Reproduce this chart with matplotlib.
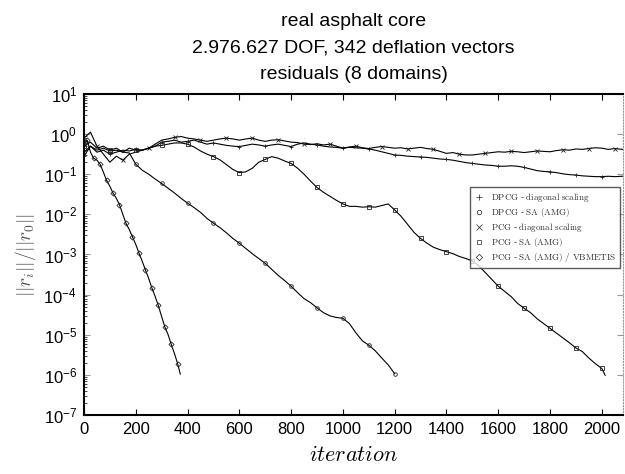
"""plot.py - residual convergence, real asphalt core, 8 domains."""

import matplotlib
matplotlib.use('Agg')
import matplotlib.pyplot as plt
import numpy as np
from matplotlib.lines import Line2D
from matplotlib.ticker import FixedLocator, LogLocator, NullFormatter

plt.rcParams.update({
    'font.family': ['Liberation Sans', 'DejaVu Sans'],
    'mathtext.fontset': 'cm',
    'xtick.direction': 'in', 'ytick.direction': 'in',
})

# --- data (log10 of relative residual) ---
it_long = [0, 25, 50, 75, 100, 125, 150, 175, 200, 225, 250, 275, 300, 325, 350, 375,
           400, 425, 450, 475, 500, 525, 550, 575, 600, 625, 650, 675, 700, 725, 750, 775,
           800, 825, 850, 875, 900, 925, 950, 975, 1000, 1025, 1050, 1075, 1100, 1125,
           1150, 1175, 1200, 1225, 1250, 1275, 1300, 1325, 1350, 1375, 1400, 1425, 1450,
           1475, 1500, 1525, 1550, 1575, 1600, 1625, 1650, 1675, 1700, 1725, 1750, 1775,
           1800, 1825, 1850, 1875, 1900, 1925, 1950, 1975, 2000, 2025, 2050, 2080]

dpcg_diag = [-0.55, -0.30, -0.45, -0.40, -0.50, -0.45, -0.40, -0.42, -0.38, -0.40, -0.35,
             -0.30, -0.20, -0.18, -0.15, -0.20, -0.18, -0.15, -0.20, -0.25, -0.22, -0.25,
             -0.28, -0.30, -0.31, -0.28, -0.25, -0.27, -0.30, -0.27, -0.25, -0.28, -0.31,
             -0.25, -0.22, -0.25, -0.27, -0.30, -0.32, -0.33, -0.35, -0.33, -0.34, -0.35,
             -0.37, -0.40, -0.44, -0.48, -0.52, -0.53, -0.55, -0.56, -0.57, -0.58, -0.60,
             -0.62, -0.63, -0.65, -0.68, -0.71, -0.73, -0.75, -0.77, -0.78, -0.80, -0.80,
             -0.79, -0.80, -0.83, -0.87, -0.91, -0.93, -0.94, -0.96, -0.99, -1.01, -1.02,
             -1.04, -1.05, -1.06, -1.06, -1.05, -1.06, -1.05]

pcg_diag = [-0.10, 0.05, -0.30, -0.50, -0.70, -0.55, -0.65, -0.50, -0.45, -0.40, -0.35,
            -0.25, -0.15, -0.12, -0.08, -0.06, -0.10, -0.12, -0.15, -0.18, -0.15, -0.12,
            -0.10, -0.12, -0.15, -0.12, -0.10, -0.15, -0.18, -0.15, -0.14, -0.17, -0.20,
            -0.21, -0.25, -0.26, -0.24, -0.27, -0.25, -0.30, -0.35, -0.32, -0.30, -0.34,
            -0.36, -0.33, -0.31, -0.33, -0.35, -0.34, -0.37, -0.35, -0.33, -0.36, -0.38,
            -0.43, -0.48, -0.46, -0.50, -0.52, -0.52, -0.50, -0.48, -0.46, -0.44, -0.45,
            -0.43, -0.44, -0.46, -0.44, -0.42, -0.43, -0.44, -0.41, -0.39, -0.40, -0.37,
            -0.38, -0.36, -0.34, -0.35, -0.38, -0.36, -0.38]

it_sq = it_long[:81] + [2013]
pcg_sa = [-0.30, -0.20, -0.35, -0.30, -0.40, -0.35, -0.45, -0.35, -0.40, -0.40, -0.35,
          -0.30, -0.28, -0.25, -0.22, -0.22, -0.25, -0.32, -0.42, -0.50, -0.56, -0.64,
          -0.76, -0.88, -0.96, -0.94, -0.85, -0.70, -0.63, -0.56, -0.60, -0.67, -0.73,
          -0.85, -1.00, -1.17, -1.33, -1.45, -1.55, -1.65, -1.74, -1.80, -1.80, -1.82,
          -1.81, -1.82, -1.78, -1.74, -1.89, -2.05, -2.25, -2.45, -2.60, -2.72, -2.82,
          -2.88, -2.93, -2.98, -3.05, -3.10, -3.16, -3.28, -3.45, -3.62, -3.79, -3.92,
          -4.05, -4.22, -4.34, -4.45, -4.60, -4.72, -4.84, -4.96, -5.08, -5.20, -5.33,
          -5.42, -5.58, -5.72, -5.84, -6.01]

it_circ = it_long[:49]
dpcg_sa = [-0.45, -0.30, -0.40, -0.35, -0.42, -0.40, -0.45, -0.47, -0.75, -0.90, -1.00,
           -1.12, -1.23, -1.35, -1.47, -1.60, -1.72, -1.83, -1.95, -2.10, -2.22, -2.33,
           -2.46, -2.60, -2.72, -2.85, -2.98, -3.10, -3.22, -3.37, -3.52, -3.65, -3.79,
           -3.95, -4.10, -4.20, -4.33, -4.45, -4.53, -4.57, -4.59, -4.72, -4.95, -5.15,
           -5.26, -5.40, -5.58, -5.75, -5.97]

it_dia = [0, 12, 25, 37, 50, 62, 75, 87, 100, 112, 125, 137, 150, 162, 175, 187, 200,
          212, 225, 237, 250, 262, 275, 287, 300, 312, 325, 337, 350, 362, 372]
pcg_sa_vbm = [-0.25, -0.15, -0.45, -0.60, -0.65, -0.75, -0.95, -1.15, -1.30, -1.47, -1.60,
              -1.76, -2.00, -2.22, -2.38, -2.56, -2.75, -2.96, -3.17, -3.38, -3.60, -3.83,
              -4.05, -4.27, -4.55, -4.80, -5.00, -5.24, -5.48, -5.73, -5.98]

methods = ['DPCG', 'DPCG', 'PCG', 'PCG', 'PCG']
precs = [r'diagonal\ scaling', r'SA\ (AMG)', r'diagonal\ scaling', r'SA\ (AMG)',
         r'SA\ (AMG)\ /\ VBMETIS']
markers = ['+', 'o', 'x', 's', 'D']
x_ticks = [0, 200, 400, 600, 800, 1000, 1200, 1400, 1600, 1800, 2000]
y_exps = [1, 0, -1, -2, -3, -4, -5, -6, -7]

series = [(it_long, dpcg_diag, 4, 0), (it_circ, dpcg_sa, 4, 0),
          (it_long, pcg_diag, 4, 2), (it_sq, pcg_sa, 4, 0),
          (it_dia, pcg_sa_vbm, 2, 1)]

fig = plt.figure(figsize=(6.25, 4.74), dpi=100)
ax = fig.add_axes([0.1344, 0.1245, 0.8624, 0.6772])

for (xs, ys, every, start), mk in zip(series, markers):
    ms = 3.5 if mk in '+x' else 2.6
    ax.semilogy(xs, 10.0 ** np.array(ys), color='black', lw=0.8,
                marker=mk, ms=ms, mew=0.6, mfc='none', mec='#222222',
                markevery=(start, every))

ax.set_xlim(0, 2082)
ax.set_ylim(1e-7, 1e1)
ax.xaxis.set_major_locator(FixedLocator(x_ticks))
ax.set_xticklabels([str(v) for v in x_ticks])
ax.yaxis.set_major_locator(FixedLocator([10.0 ** e for e in y_exps]))
ax.set_yticklabels([r'$\mathregular{10^{%d}}$' % e for e in y_exps])
ax.yaxis.set_minor_locator(LogLocator(base=10, subs=np.arange(2, 10)))
ax.yaxis.set_minor_formatter(NullFormatter())
ax.tick_params(axis='both', which='major', labelsize=12, length=4, width=0.8,
               top=True, right=True, pad=5)
ax.tick_params(axis='y', which='minor', length=2, width=0.5, right=False)
ax.tick_params(axis='y', which='major', right=True, color='#999999')

for side in ['left', 'bottom', 'top']:
    ax.spines[side].set_linewidth(1.5)
ax.spines['right'].set_linewidth(0.8)
ax.spines['right'].set_linestyle(':')
ax.spines['right'].set_color('#999999')

ax.set_xlabel(r'$iteration$', fontsize=16, labelpad=6)
ax.set_ylabel(r'$||r_i||/||r_0||$', fontsize=14, color='#555555', labelpad=4)

ax.set_title('real asphalt core\n2.976.627 DOF, 342 deflation vectors\nresiduals (8 domains)',
             fontsize=14, linespacing=1.72, pad=11)

labels = [r'$\mathrm{%s}$ - $\mathrm{%s}$' % (m, p) for m, p in zip(methods, precs)]
handles = [Line2D([], [], ls='none', marker=m, color='#222222', mfc='none',
                  ms=4 if m in '+x' else 3.2, mew=0.5) for m in markers]
leg = ax.legend(handles, labels, loc='upper right', bbox_to_anchor=(0.995, 0.71),
                borderaxespad=0, fontsize=6.5, frameon=True, fancybox=False,
                handlelength=1.0, handletextpad=0.9, labelspacing=0.22,
                borderpad=0.45, labelcolor='#333333')
leg.get_frame().set_edgecolor('#333333')
leg.get_frame().set_linewidth(1.0)

fig.savefig('out.png', dpi=100)
